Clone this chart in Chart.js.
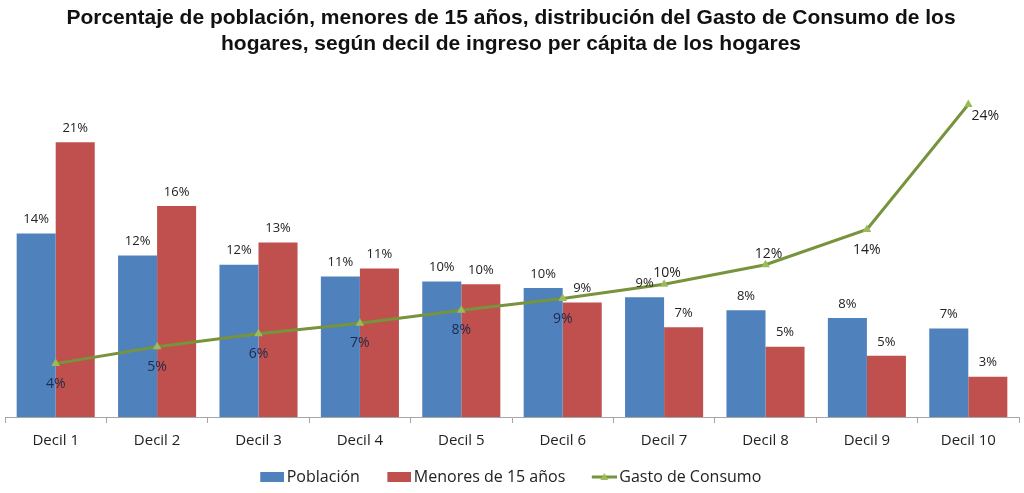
<!DOCTYPE html>
<html>
<head>
<meta charset="utf-8">
<script src="https://cdn.jsdelivr.net/npm/chart.js@4"></script>
<style>
  html, body { margin: 0; padding: 0; background: #fff; }
  #wrap { width: 1024px; height: 493px; }
</style>
</head>
<body>
<div id="wrap"><canvas id="grafico"></canvas></div>
<script>
var deciles = ['Decil 1','Decil 2','Decil 3','Decil 4','Decil 5','Decil 6','Decil 7','Decil 8','Decil 9','Decil 10']
var poblacion = [14.1, 12.4, 11.7, 10.8, 10.4, 9.9, 9.2, 8.2, 7.6, 6.8]
var menores = [21.1, 16.2, 13.4, 11.4, 10.2, 8.8, 6.9, 5.4, 4.7, 3.1]
var gasto = [4.1, 5.4, 6.4, 7.2, 8.2, 9.1, 10.2, 11.7, 14.4, 24.0]

// where the line labels sit relative to the point
var gastoPos = ['below','below','below','below','below','below','above','above','below','right']

var azul = '#4F81BD'
var rojo = '#C0504D'
var verde = '#77933C'
var verdeClaro = '#9BBB59'

// legend icons: transparent lead on the left so the items sit further apart
// while the icon stays close to its text
var ICON_W = 45

function cajaIcono(color){
    var c = document.createElement('canvas')
    c.width = ICON_W; c.height = 10
    var g = c.getContext('2d')
    g.fillStyle = color
    g.fillRect(ICON_W - 24, 0, 24, 10)
    return c
}

function lineaIcono(){
    var c = document.createElement('canvas')
    c.width = ICON_W; c.height = 10
    var g = c.getContext('2d')
    var x0 = ICON_W - 25
    g.strokeStyle = verde
    g.lineWidth = 3
    g.beginPath(); g.moveTo(x0, 5); g.lineTo(ICON_W, 5); g.stroke()
    g.fillStyle = verdeClaro
    g.beginPath(); g.moveTo(x0 + 12.5, 1); g.lineTo(x0 + 16.5, 8); g.lineTo(x0 + 8.5, 8); g.closePath(); g.fill()
    return c
}

var iconos = [cajaIcono(azul), cajaIcono(rojo), lineaIcono()]

var etiquetas = {
    id: 'etiquetas',
    afterLayout: function(chart){
        // compensate the transparent lead of the first icon
        if (chart.legend) { chart.legend.left -= 8; chart.legend.right -= 8 }
    },
    afterDatasetsDraw: function(chart){
        var ctx = chart.ctx
        ctx.save()
        chart.data.datasets.forEach(function(ds, i){
            var meta = chart.getDatasetMeta(i)
            meta.data.forEach(function(el, j){
                var txt = Math.round(ds.data[j]) + '%'
                ctx.textAlign = 'center'
                ctx.textBaseline = 'middle'
                if (ds.type === 'line') {
                    var pos = gastoPos[j]
                    ctx.font = '14px "Open Sans"'
                    ctx.fillStyle = j < 6 ? '#1F2A4D' : '#222'
                    if (pos === 'below') ctx.fillText(txt, el.x, el.y + 20)
                    else if (pos === 'above') ctx.fillText(txt, el.x + 3, el.y - 11)
                    else ctx.fillText(txt, el.x + 17, el.y + 11)
                } else {
                    ctx.font = '13px "Open Sans"'
                    ctx.fillStyle = '#222'
                    ctx.fillText(txt, el.x, el.y - 14)
                }
            })
        })
        ctx.restore()
    }
}

var chart = new Chart(document.getElementById('grafico').getContext('2d'), {
    type: 'bar',
    data: {
        labels: deciles,
        datasets: [
            {
                label: 'Población',
                data: poblacion,
                backgroundColor: azul,
                order: 1,
                categoryPercentage: 0.77,
                barPercentage: 1.0
            },
            {
                label: 'Menores de 15 años',
                data: menores,
                backgroundColor: rojo,
                order: 1,
                categoryPercentage: 0.77,
                barPercentage: 1.0
            },
            {
                type: 'line',
                label: 'Gasto de Consumo',
                data: gasto,
                borderColor: verde,
                borderWidth: 3,
                backgroundColor: verdeClaro,
                pointStyle: 'triangle',
                pointRadius: 5,
                pointBorderWidth: 0,
                pointBackgroundColor: verdeClaro,
                tension: 0,
                order: 0
            }
        ]
    },
    options: {
        responsive: true,
        maintainAspectRatio: false,
        animation: false,
        layout: { padding: { left: 1, right: 3, top: 0, bottom: -2 } },
        scales: {
            x: {
                grid: { offset: true, drawOnChartArea: false, drawTicks: true, tickLength: 6, color: '#A6A6A6' },
                border: { color: '#A6A6A6' },
                ticks: { color: '#222', font: { family: 'Open Sans', size: 15 }, padding: 9 },
                afterFit: function(scale){
                    scale.height = 40
                    scale.paddingLeft = 0
                    scale.paddingRight = 0
                }
            },
            y: {
                display: false,
                min: 0,
                max: 26.7
            }
        },
        plugins: {
            title: {
                display: true,
                text: ['Porcentaje de población, menores de 15 años, distribución del Gasto de Consumo de los', 'hogares, según decil de ingreso per cápita de los hogares'],
                color: '#111',
                font: { family: 'Liberation Sans', size: 21, weight: 'bold' },
                padding: { top: 6, bottom: 13 },
                lineHeight: 1.2
            },
            legend: {
                position: 'bottom',
                labels: {
                    usePointStyle: true,
                    pointStyleWidth: 34,
                    color: '#222',
                    font: { family: 'Open Sans', size: 16 },
                    padding: 12,
                    sort: function(a, b){ return a.datasetIndex - b.datasetIndex },
                    generateLabels: function(chart){
                        var items = Chart.defaults.plugins.legend.labels.generateLabels(chart)
                        items.forEach(function(it){ it.pointStyle = iconos[it.datasetIndex] })
                        return items
                    }
                }
            },
            tooltip: { enabled: false }
        }
    },
    plugins: [etiquetas]
})
</script>
</body>
</html>
